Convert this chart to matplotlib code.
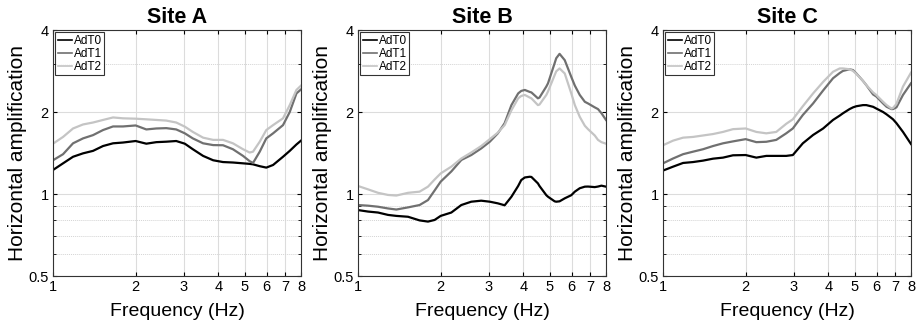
import numpy as np
import matplotlib
matplotlib.use("Agg")
import matplotlib.pyplot as plt
from matplotlib.ticker import FixedLocator, NullFormatter

plt.rcParams['font.family'] = ['Liberation Sans', 'DejaVu Sans']

series_names = ['AdT0', 'AdT1', 'AdT2']
site_titles = ['Site A', 'Site B', 'Site C']

# Site A: frequencies (Hz) and amplification
freq_a = [1.00, 1.088, 1.183, 1.286, 1.399, 1.521, 1.654, 1.798, 2.00, 2.187, 2.378, 2.585,
          2.81, 3.02, 3.23, 3.52, 3.83, 4.16, 4.52, 4.92, 5.20, 5.35, 5.66, 5.98, 6.33,
          6.88, 7.28, 7.70, 8.00]
a_adt0 = [1.225, 1.296, 1.37, 1.41, 1.44, 1.50, 1.535, 1.545, 1.565, 1.53, 1.55, 1.556,
          1.565, 1.53, 1.46, 1.38, 1.33, 1.31, 1.305, 1.296, 1.29, 1.285, 1.265, 1.25, 1.278,
          1.37, 1.44, 1.52, 1.57]
a_adt1 = [1.33, 1.40, 1.535, 1.60, 1.645, 1.717, 1.77, 1.77, 1.785, 1.726, 1.74, 1.745,
          1.726, 1.67, 1.60, 1.535, 1.512, 1.51, 1.46, 1.38, 1.32, 1.30, 1.43, 1.60, 1.67,
          1.79, 2.0, 2.34, 2.42]
a_adt2 = [1.53, 1.62, 1.74, 1.80, 1.83, 1.87, 1.91, 1.896, 1.89, 1.88, 1.87, 1.86,
          1.83, 1.767, 1.69, 1.61, 1.58, 1.58, 1.535, 1.46, 1.42, 1.43, 1.556, 1.717, 1.79,
          1.896, 2.12, 2.41, 2.50]

# Site B
freq_b = [1.00, 1.088, 1.183, 1.286, 1.379, 1.521, 1.676, 1.798, 1.901, 2.00, 2.187, 2.378,
          2.585, 2.81, 3.02, 3.23, 3.42, 3.62, 3.83, 3.93, 4.05, 4.22, 4.28, 4.52, 4.58,
          4.85, 4.92, 5.20, 5.27, 5.42, 5.66, 5.98, 6.16, 6.42, 6.70, 6.88, 7.28, 7.48,
          7.70, 8.00]
b_adt0 = [0.873, 0.862, 0.855, 0.838, 0.831, 0.825, 0.80, 0.792, 0.803, 0.831, 0.855, 0.911,
          0.937, 0.945, 0.937, 0.924, 0.909, 0.977, 1.07, 1.125, 1.15, 1.157, 1.155, 1.094, 1.07,
          0.99, 0.977, 0.94, 0.937, 0.94, 0.964, 0.99, 1.02, 1.05, 1.064, 1.065, 1.06, 1.065,
          1.073, 1.064]
b_adt1 = [0.911, 0.906, 0.898, 0.885, 0.877, 0.893, 0.911, 0.95, 1.03, 1.11, 1.21, 1.333,
          1.39, 1.47, 1.556, 1.67, 1.82, 2.12, 2.34, 2.39, 2.41, 2.37, 2.36, 2.245, 2.26,
          2.48, 2.55, 3.02, 3.15, 3.27, 3.10, 2.69, 2.50, 2.31, 2.18, 2.15, 2.08, 2.05,
          1.98, 1.87]
b_adt2 = [1.07, 1.04, 1.01, 0.992, 0.987, 1.01, 1.02, 1.064, 1.13, 1.19, 1.26, 1.35,
          1.42, 1.50, 1.59, 1.68, 1.79, 2.03, 2.245, 2.29, 2.31, 2.26, 2.245, 2.12, 2.13,
          2.31, 2.38, 2.73, 2.82, 2.89, 2.77, 2.34, 2.12, 1.92, 1.78, 1.73, 1.64, 1.58,
          1.55, 1.53]

# Site C
freq_c = [1.00, 1.088, 1.183, 1.286, 1.399, 1.521, 1.654, 1.798, 2.00, 2.187, 2.378, 2.585,
          2.81, 2.97, 3.23, 3.52, 3.83, 4.16, 4.40, 4.52, 4.78, 4.92, 5.06, 5.35, 5.50,
          5.82, 5.98, 6.33, 6.52, 6.79, 6.88, 7.08, 7.48, 8.00]
c_adt0 = [1.219, 1.26, 1.30, 1.31, 1.326, 1.348, 1.36, 1.387, 1.39, 1.36, 1.38, 1.38,
          1.38, 1.39, 1.535, 1.647, 1.74, 1.87, 1.94, 1.978, 2.05, 2.08, 2.10, 2.12, 2.12,
          2.09, 2.06, 2.0, 1.96, 1.90, 1.88, 1.82, 1.69, 1.526]
c_adt1 = [1.296, 1.35, 1.40, 1.43, 1.46, 1.50, 1.535, 1.56, 1.59, 1.55, 1.555, 1.58,
          1.67, 1.74, 1.95, 2.15, 2.40, 2.66, 2.78, 2.83, 2.87, 2.85, 2.77, 2.60, 2.51,
          2.32, 2.28, 2.15, 2.09, 2.05, 2.05, 2.08, 2.31, 2.55]
c_adt2 = [1.51, 1.57, 1.61, 1.62, 1.64, 1.66, 1.69, 1.73, 1.74, 1.69, 1.67, 1.69,
          1.81, 1.88, 2.10, 2.34, 2.58, 2.81, 2.89, 2.89, 2.87, 2.83, 2.76, 2.60, 2.51,
          2.36, 2.31, 2.18, 2.12, 2.06, 2.07, 2.14, 2.48, 2.79]

sites = [
    (freq_a, [a_adt0, a_adt1, a_adt2]),
    (freq_b, [b_adt0, b_adt1, b_adt2]),
    (freq_c, [c_adt0, c_adt1, c_adt2]),
]

colors = ['#000000', '#707070', '#c4c4c4']

fig = plt.figure(figsize=(9.17, 3.29), dpi=100)
lefts = [53 / 917, 358 / 917, 663 / 917]
for left, title, (freq, curves) in zip(lefts, site_titles, sites):
    ax = fig.add_axes([left, 53 / 329, 248 / 917, 246 / 329])
    ax.set_xscale('log')
    ax.set_yscale('log')
    ax.set_xlim(1, 8)
    ax.set_ylim(0.5, 4)

    for name, vals, c in zip(series_names, curves, colors):
        ax.plot(freq, vals, color=c, lw=1.6, label=name, solid_joinstyle='round')

    ax.xaxis.set_major_locator(FixedLocator([1, 2, 3, 4, 5, 6, 7, 8]))
    ax.xaxis.set_minor_locator(FixedLocator([]))
    ax.set_xticklabels(['1', '2', '3', '4', '5', '6', '7', '8'])
    ax.yaxis.set_major_locator(FixedLocator([0.5, 1, 2, 4]))
    ax.yaxis.set_minor_locator(FixedLocator([0.6, 0.7, 0.8, 0.9, 3]))
    ax.yaxis.set_minor_formatter(NullFormatter())
    ax.set_yticklabels(['0.5', '1', '2', '4'])

    ax.grid(True, which='major', color='#dcdcdc', lw=0.8)
    ax.grid(True, which='minor', axis='y', color='#d4d4d4', lw=0.7, ls=(0, (1, 1)))
    ax.set_axisbelow(True)

    ax.tick_params(which='both', direction='in', top=True, right=True,
                   labelsize=10.5, length=3, pad=3)
    ax.tick_params(which='minor', length=2)
    for sp in ax.spines.values():
        sp.set_linewidth(0.8)
        sp.set_color('#333333')

    ax.set_title(title, fontsize=15.5, fontweight='bold', pad=5)
    ax.set_xlabel('Frequency (Hz)', fontsize=14, labelpad=6)
    ax.set_ylabel('Horizontal amplification', fontsize=15, labelpad=1)

    leg = ax.legend(loc='upper left', fontsize=8.5, frameon=True, fancybox=False,
                    handlelength=1.2, handletextpad=0.15, borderpad=0.2,
                    labelspacing=0.1, borderaxespad=0.2)
    leg.get_frame().set_edgecolor('#000000')
    leg.get_frame().set_linewidth(0.8)
    for line in leg.get_lines():
        line.set_linewidth(1.2)

fig.savefig('out.png', dpi=100)
